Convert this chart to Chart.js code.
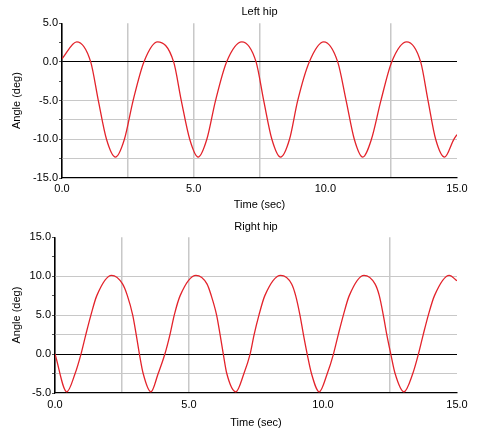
<!DOCTYPE html>
<html>
<head>
<meta charset="utf-8">
<script src="https://cdn.jsdelivr.net/npm/chart.js@4/dist/chart.umd.min.js"></script>
<style>
  body { margin: 0; background: #fff; }
  canvas { display: block; }
</style>
</head>
<body>
<canvas id="leftHipChart" width="489" height="210"></canvas>
<canvas id="rightHipChart" width="489" height="218"></canvas>
<script>
// values (time in sec, angle in deg)
const leftTime = [0, 0.56, 1.09, 1.38, 1.69, 2.03, 2.37, 2.70, 3.11, 3.63, 4.24, 4.53, 4.85, 5.17, 5.50, 5.83, 6.25, 6.83,
  7.37, 7.66, 7.97, 8.30, 8.64, 8.95, 9.39, 9.94, 10.47, 10.79, 11.10, 11.42, 11.75, 12.11, 12.52, 13.09, 13.62, 13.90,
  14.19, 14.53, 14.88, 15];
const leftAngle = [0.4, 2.6, 0, -5, -10, -12.3, -10, -5, 0, 2.6, 0, -5, -10, -12.3, -10, -5, 0, 2.6,
  0, -5, -10, -12.3, -10, -5, 0, 2.6, 0, -5, -10, -12.3, -10, -5, 0, 2.6, 0, -5,
  -10, -12.3, -10, -9.4];

const rightTime = [0, 0.44, 0.75, 0.97, 1.15, 1.34, 1.56, 2.11, 2.52, 2.70, 2.90, 3.03, 3.15, 3.29, 3.58,
  3.85, 4.10, 4.29, 4.45, 4.67, 5.26, 5.67, 5.83, 6.03, 6.16, 6.28, 6.41, 6.75,
  7.05, 7.28, 7.43, 7.61, 7.83, 8.42, 8.83, 8.98, 9.14, 9.27, 9.41, 9.57, 9.86,
  10.16, 10.39, 10.57, 10.76, 10.98, 11.53, 11.94, 12.10, 12.25, 12.38, 12.53, 12.69, 13.02,
  13.35, 13.56, 13.74, 13.93, 14.16, 14.71, 15];
const rightAngle = [0, -4.85, -2.5, 0, 2.5, 5, 7.5, 10.1, 9, 7.5, 5, 2.5, 0, -2.5, -4.85,
  -2.5, 0, 2.5, 5, 7.5, 10.1, 9, 7.5, 5, 2.5, 0, -2.5, -4.85,
  -2.5, 0, 2.5, 5, 7.5, 10.1, 9, 7.5, 5, 2.5, 0, -2.5, -4.85,
  -2.5, 0, 2.5, 5, 7.5, 10.1, 9, 7.5, 5, 2.5, 0, -2.5, -4.85,
  -2.5, 0, 2.5, 5, 7.5, 10.1, 9.4];

// where the reference shows grey grid lines
const leftGridTime = [2.5, 5, 7.5, 12.5];
const leftGridAngle = [-5, -7.5, -10, -12.5];
const rightGridTime = [2.5, 5, 12.5];
const rightGridAngle = [10, 5, 2.5, -2.5];

Chart.defaults.font.family = "'Liberation Sans', Arial, sans-serif";
Chart.defaults.font.size = 11;
Chart.defaults.color = "#000";

const gridColor = (list) => (ctx) => {
  const v = ctx.tick.value;
  if (v === 0) return "#000";
  return list.includes(v) ? "#c8c8c8" : "rgba(0,0,0,0)";
};

const makeChart = (id, title, time, angle, yMin, yMax, gridX, gridY, layout) => {
  return new Chart(document.getElementById(id), {
    type: "line",
    data: {
      datasets: [{
        data: time.map((t, i) => ({ x: t, y: angle[i] })),
        borderColor: "#e3232b",
        borderWidth: 1.3,
        pointRadius: 0,
        fill: false,
        cubicInterpolationMode: "monotone",
      }],
    },
    options: {
      responsive: false,
      animation: false,
      layout: { padding: { left: 0, right: 32, top: 0, bottom: 0 } },
      plugins: {
        legend: { display: false },
        tooltip: { enabled: false },
        title: {
          display: true,
          text: title,
          fullSize: false,
          font: { weight: "normal", size: 11 },
          color: "#000",
          padding: layout.titlePad,
        },
      },
      scales: {
        x: {
          type: "linear",
          min: 0,
          max: 15,
          afterFit: (s) => { s.height = layout.xHeight; },
          ticks: {
            stepSize: 2.5,
            maxRotation: 0,
            padding: layout.xTickPad,
            callback: (v) => (v % 5 === 0 ? v.toFixed(1) : ""),
          },
          grid: { color: gridColor(gridX), drawTicks: false, lineWidth: 1.5 },
          border: { color: "#000", width: 1.2 },
          title: { display: true, text: "Time (sec)", padding: { top: 0, bottom: -2 } },
        },
        y: {
          min: yMin,
          max: yMax,
          afterFit: (s) => { s.width = layout.yWidth; },
          ticks: {
            stepSize: 2.5,
            padding: 1,
            callback: (v) => (v % 5 === 0 ? v.toFixed(1) : ""),
          },
          grid: { color: gridColor(gridY), tickColor: "#555", tickLength: 3 },
          border: { color: "#000", width: 1.2 },
          title: { display: true, text: "Angle (deg)", padding: { top: 10, bottom: 0 } },
        },
      },
    },
  });
};

makeChart("leftHipChart", "Left hip", leftTime, leftAngle, -15, 5, leftGridTime, leftGridAngle,
  { titlePad: { top: 5, bottom: 5 }, xHeight: 32, xTickPad: 4, yWidth: 62 });
makeChart("rightHipChart", "Right hip", rightTime, rightAngle, -5, 15, rightGridTime, rightGridAngle,
  { titlePad: { top: 10, bottom: 4 }, xHeight: 35, xTickPad: 5, yWidth: 55 });
</script>
</body>
</html>
